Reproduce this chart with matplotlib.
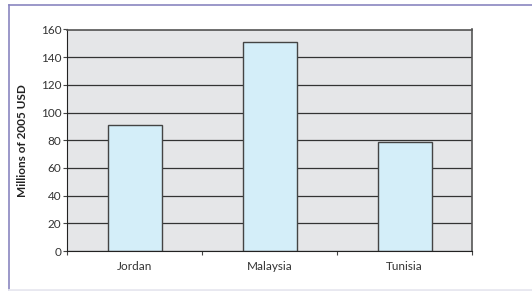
import matplotlib
matplotlib.use("Agg")
import matplotlib.pyplot as plt
from matplotlib.lines import Line2D

countries = ["Jordan", "Malaysia", "Tunisia"]
values = [91, 151, 79]
y_ticks = [0, 20, 40, 60, 80, 100, 120, 140, 160]

plt.rcParams["font.family"] = ["Lato", "DejaVu Sans"]

fig = plt.figure(figsize=(5.32, 2.91), dpi=100)
ax = fig.add_axes([67 / 532, 1 - 251 / 291, 405 / 532, 221.5 / 291])
ax.set_facecolor("#e5e6e8")

ax.set_axisbelow(True)
ax.yaxis.grid(True, color="#333333", linewidth=0.9)

x = list(range(len(countries)))
ax.bar(x, values, width=0.4, color="#d4eef9", edgecolor="#444444", linewidth=1.0)

ax.set_xlim(-0.5, 2.5)
ax.set_ylim(0, 160)
ax.set_yticks(y_ticks)
ax.set_yticklabels([str(v) for v in y_ticks], fontsize=8.5, color="#333333")

ax.set_xticks([-0.5, 0.5, 1.5, 2.5])
ax.set_xticklabels([])
ax.set_xticks(x, minor=True)
ax.set_xticklabels(countries, minor=True, fontsize=8.5, color="#333333")
ax.tick_params(axis="x", which="minor", length=0, pad=7)
ax.tick_params(axis="x", which="major", length=3, color="#444444")
ax.tick_params(axis="y", length=3, color="#444444", pad=1)

ax.set_ylabel("Millions of 2005 USD", fontsize=8.5, fontweight="bold", color="#222222", labelpad=9)

for side in ["left", "bottom"]:
    ax.spines[side].set_color("#222222")
for side in ["top", "right"]:
    ax.spines[side].set_color("#555555")
    ax.spines[side].set_linewidth(1.2)

# outer frame lines
fig.add_artist(Line2D([9 / 532, 1], [1 - 5 / 291, 1 - 5 / 291], color="#8a86c0", linewidth=1.2))
fig.add_artist(Line2D([9 / 532, 9 / 532], [1 - 5 / 291, 0], color="#8a86c0", linewidth=1.2))
fig.add_artist(Line2D([9 / 532, 1], [1 - 289.5 / 291, 1 - 289.5 / 291], color="#e8e8f0", linewidth=2))

fig.savefig("out.png", dpi=100)
